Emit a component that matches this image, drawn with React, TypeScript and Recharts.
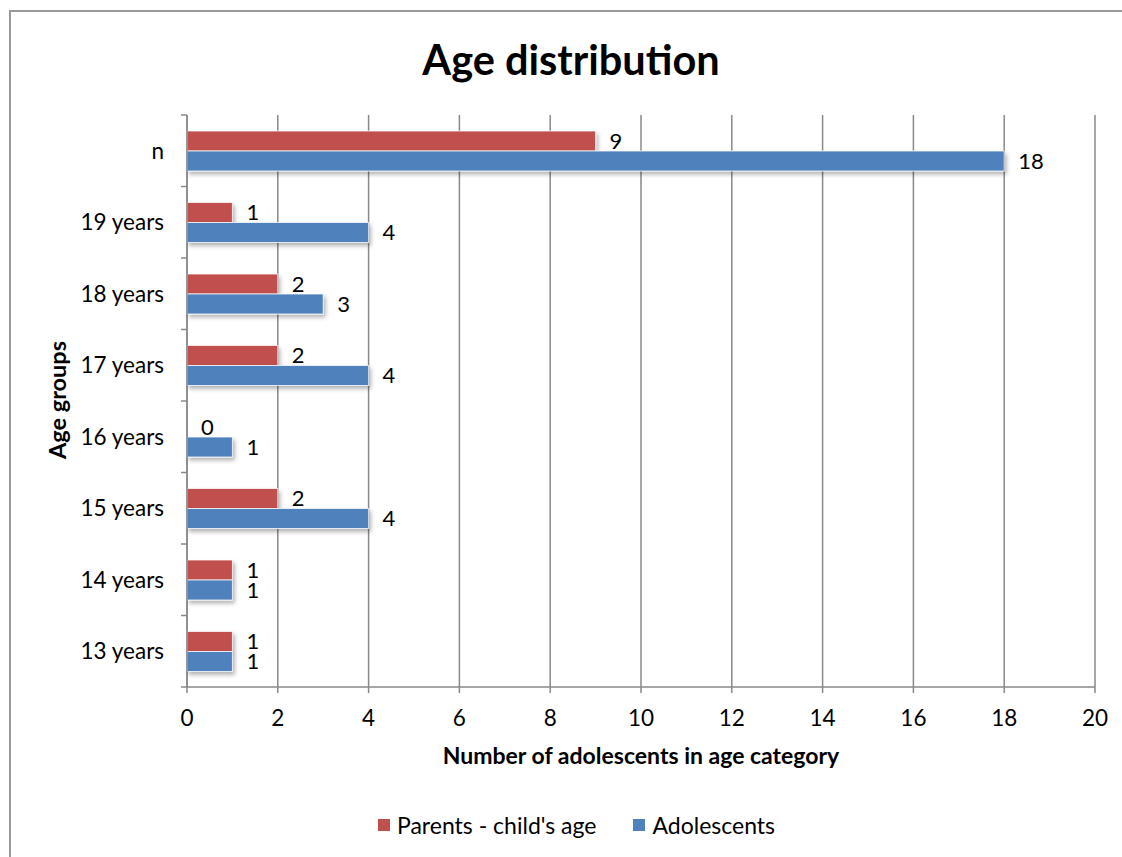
import { BarChart, Bar, XAxis, YAxis, CartesianGrid, Legend, LabelList, Label } from "recharts";

const categories = ["n", "19 years", "18 years", "17 years", "16 years", "15 years", "14 years", "13 years"];
const parentsValues = [9, 1, 2, 2, 0, 2, 1, 1];
const adolescentValues = [18, 4, 3, 4, 1, 4, 1, 1];
const xTicks = [0, 2, 4, 6, 8, 10, 12, 14, 16, 18, 20];

const seriesNames = { parents: "Parents - child's age", adolescents: "Adolescents" };
const colors = { parents: "#C0504D", adolescents: "#4F81BD" };

const W = 1122;
const H = 857;
const MARGIN = { top: 115, right: 27, left: 0, bottom: 60 };
const Y_AXIS_WIDTH = 187;
const X_AXIS_HEIGHT = 80;
const LEGEND_HEIGHT = 30;
const FONT = "Lato, 'Noto Sans', sans-serif";
const AXIS_COLOR = "#898989";

const plotHeight = H - MARGIN.top - MARGIN.bottom - X_AXIS_HEIGHT - LEGEND_HEIGHT;
const band = plotHeight / categories.length;

const data = categories.map((group, i) => ({
  group,
  parents: parentsValues[i],
  adolescents: adolescentValues[i],
}));

function CategoryTick(props: any) {
  const { x, y, payload, index } = props;
  const axisX = Y_AXIS_WIDTH;
  return (
    <g>
      <line x1={axisX - 6} x2={axisX} y1={y - band / 2} y2={y - band / 2} stroke={AXIS_COLOR} strokeWidth={1.5} />
      {index === categories.length - 1 && (
        <line x1={axisX - 6} x2={axisX} y1={y + band / 2} y2={y + band / 2} stroke={AXIS_COLOR} strokeWidth={1.5} />
      )}
      <text x={x - 15} y={y} dy={8} textAnchor="end" fill="#000" fontSize={22.5} fontFamily={FONT}>
        {payload.value}
      </text>
    </g>
  );
}

function ShadowBar(props: any) {
  const { x, y, width, height, fill } = props;
  if (!width || width <= 0) return null;
  return (
    <rect
      x={x}
      y={y}
      width={width}
      height={height}
      fill={fill}
      stroke="rgba(255,255,255,0.75)"
      strokeWidth={1}
      filter="url(#barShadow)"
    />
  );
}

function LegendContent() {
  const items = [
    { name: seriesNames.parents, color: colors.parents },
    { name: seriesNames.adolescents, color: colors.adolescents },
  ];
  return (
    <div style={{ display: "flex", alignItems: "center", height: LEGEND_HEIGHT, fontFamily: FONT, fontSize: 23, color: "#000", whiteSpace: "nowrap" }}>
      {items.map((it, i) => (
        <div key={it.name} style={{ display: "flex", alignItems: "center", marginRight: i === 0 ? 37 : 0 }}>
          <span style={{ display: "inline-block", width: 12, height: 12, background: it.color, marginRight: 7 }} />
          <span>{it.name}</span>
        </div>
      ))}
    </div>
  );
}

export default function App() {
  return (
    <div style={{ position: "absolute", left: 0, top: 0, width: W, height: H, overflow: "hidden", background: "#fff" }}>
      <svg width={0} height={0} style={{ position: "absolute" }}>
        <defs>
          <filter id="barShadow" x="-10%" y="-30%" width="130%" height="180%">
            <feDropShadow dx={2} dy={3} stdDeviation={2} floodColor="#000" floodOpacity={0.3} />
          </filter>
        </defs>
      </svg>
      <div
        style={{
          position: "absolute",
          left: 9,
          top: 10,
          width: W + 50,
          height: H + 50,
          borderTop: "2px solid #9a9a9a",
          borderLeft: "2px solid #9a9a9a",
        }}
      />
      <div
        style={{
          position: "absolute",
          left: 0,
          top: 34,
          width: 1142,
          textAlign: "center",
          fontFamily: FONT,
          fontWeight: 700,
          fontSize: 41.5,
          color: "#000",
          lineHeight: "50px",
        }}
      >
        Age distribution
      </div>
      <div style={{ position: "absolute", left: 0, top: 0 }}>
        <BarChart
          width={W}
          height={H}
          data={data}
          layout="vertical"
          margin={MARGIN}
          barSize={20}
          barGap={0}
        >
          <CartesianGrid horizontal={false} vertical stroke={AXIS_COLOR} strokeWidth={1.5} />
          <XAxis
            type="number"
            domain={[0, 20]}
            ticks={xTicks}
            interval={0}
            height={X_AXIS_HEIGHT}
            stroke={AXIS_COLOR}
            strokeWidth={1.5}
            tickSize={6}
            tickMargin={17}
            tick={{ fill: "#000", fontSize: 22.5, fontFamily: FONT }}
          >
            <Label
              content={(p: any) => {
                const vb = p.viewBox || { x: 0, y: 0, width: 0 };
                return (
                  <text x={vb.x + vb.width / 2} y={vb.y + 77} textAnchor="middle" fill="#000" fontSize={23} fontWeight={700} fontFamily={FONT}>
                    Number of adolescents in age category
                  </text>
                );
              }}
            />
          </XAxis>
          <YAxis
            type="category"
            dataKey="group"
            width={Y_AXIS_WIDTH}
            stroke={AXIS_COLOR}
            strokeWidth={1.5}
            tickLine={false}
            interval={0}
            tick={(p: any) => <CategoryTick {...p} />}
          >
            <Label
              content={(p: any) => {
                const vb = p.viewBox || { x: 0, y: 0, height: 0 };
                const cy = vb.y + vb.height / 2 - 1;
                return (
                  <text x={58} y={cy} transform={`rotate(-90 58 ${cy})`} dy={8} textAnchor="middle" fill="#000" fontSize={23.5} fontWeight={700} fontFamily={FONT}>
                    Age groups
                  </text>
                );
              }}
            />
          </YAxis>
          <Legend
            verticalAlign="bottom"
            content={() => <LegendContent />}
            wrapperStyle={{ top: 810, left: 378, width: "auto", height: LEGEND_HEIGHT, bottom: "auto" }}
          />
          <Bar dataKey="parents" name={seriesNames.parents} fill={colors.parents} isAnimationActive={false} shape={(p: any) => <ShadowBar {...p} />}>
            <LabelList dataKey="parents" position="right" offset={14} fill="#000" fontSize={22} fontFamily={FONT} />
          </Bar>
          <Bar dataKey="adolescents" name={seriesNames.adolescents} fill={colors.adolescents} isAnimationActive={false} shape={(p: any) => <ShadowBar {...p} />}>
            <LabelList dataKey="adolescents" position="right" offset={14} fill="#000" fontSize={22} fontFamily={FONT} />
          </Bar>
        </BarChart>
      </div>
    </div>
  );
}
